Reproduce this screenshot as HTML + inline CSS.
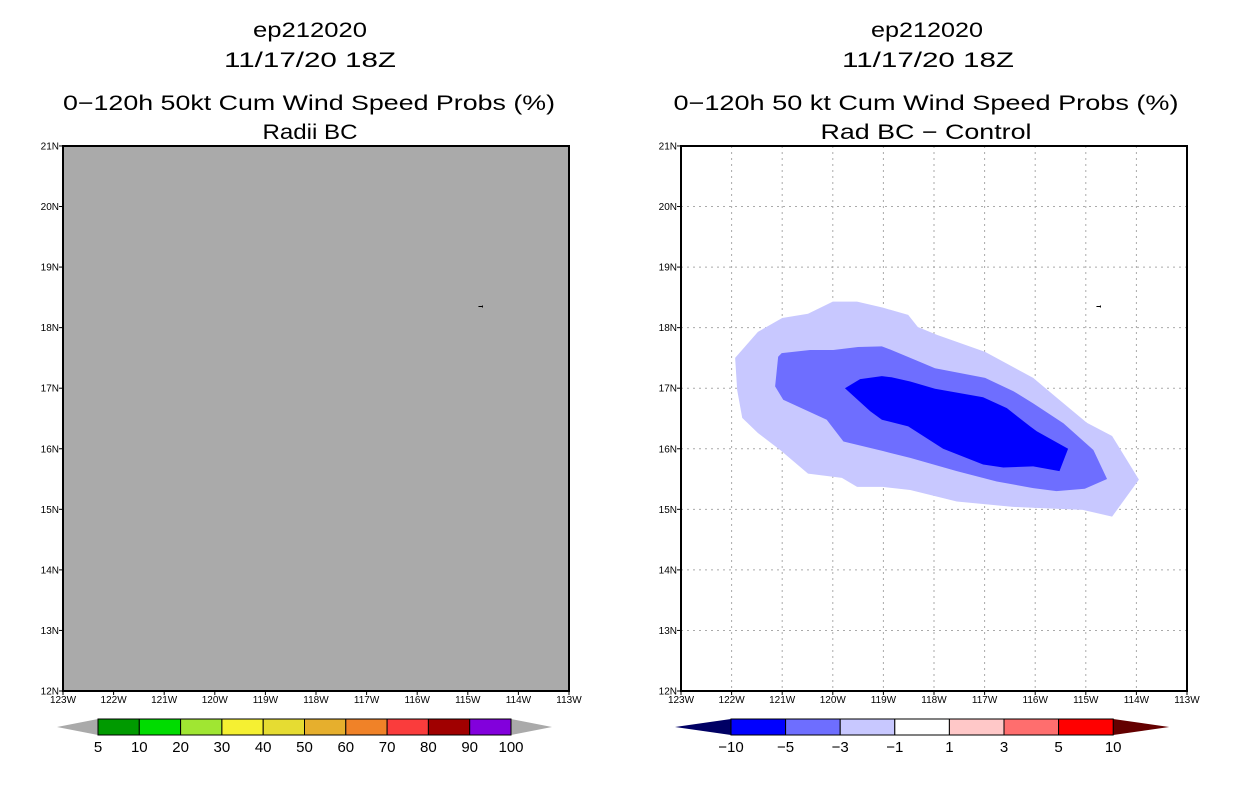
<!DOCTYPE html>
<html><head><meta charset="utf-8"><style>
html,body{margin:0;padding:0;background:#fff;}
svg{display:block;font-family:"Liberation Sans","DejaVu Sans",sans-serif;}
</style></head><body>
<svg id="s" width="1236" height="800" xmlns="http://www.w3.org/2000/svg">
<g font-size="21" text-anchor="middle" fill="#000">
<text x="310" y="37" textLength="114" lengthAdjust="spacingAndGlyphs">ep212020</text><text x="310" y="67" textLength="172" lengthAdjust="spacingAndGlyphs">11/17/20 18Z</text>
<text x="309" y="110" textLength="492" lengthAdjust="spacingAndGlyphs">0−120h 50kt Cum Wind Speed Probs (%)</text><text x="310" y="139" textLength="95" lengthAdjust="spacingAndGlyphs">Radii BC</text></g>
<g font-size="21" text-anchor="middle" fill="#000">
<text x="927" y="37" textLength="112" lengthAdjust="spacingAndGlyphs">ep212020</text><text x="928" y="67" textLength="172" lengthAdjust="spacingAndGlyphs">11/17/20 18Z</text>
<text x="926" y="110" textLength="505" lengthAdjust="spacingAndGlyphs">0−120h 50 kt Cum Wind Speed Probs (%)</text><text x="926" y="139" textLength="211" lengthAdjust="spacingAndGlyphs">Rad BC − Control</text></g>
<g id="L"></g>
<g id="R"></g>
<g id="CB"></g>
</svg>
<script>
const NS="http://www.w3.org/2000/svg";
const lonTicks=[-123,-122,-121,-120,-119,-118,-117,-116,-115,-114,-113];
const latTicks=[12,13,14,15,16,17,18,19,20,21];
const markerLon=[-114.75];
const markerLat=[18.35];
const outerLon=[-121.93,-121.48,-121.0,-120.49,-120.0,-119.52,-119.01,-118.51,-118.32,-117.94,-116.99,-116.04,-115.57,-114.98,-114.48,-113.95,-114.48,-115.06,-116.44,-117.55,-118.47,-119.01,-119.52,-119.82,-120.49,-121.04,-121.48,-121.79,-121.89];
const outerLat=[17.50,17.93,18.16,18.23,18.43,18.43,18.33,18.21,18.01,17.88,17.60,17.17,16.84,16.43,16.21,15.49,14.88,14.99,15.04,15.13,15.32,15.37,15.37,15.52,15.59,15.98,16.26,16.51,16.97];
const midLon=[-121.08,-121.01,-120.45,-119.99,-119.50,-119.03,-118.90,-118.38,-117.98,-116.99,-116.43,-116.04,-115.44,-114.85,-114.58,-115.02,-115.58,-116.04,-116.76,-117.55,-118.47,-119.00,-119.79,-120.12,-120.98,-121.14];
const midLat=[17.52,17.58,17.63,17.63,17.68,17.69,17.65,17.47,17.33,17.17,16.95,16.75,16.42,15.98,15.50,15.34,15.30,15.35,15.46,15.63,15.85,15.96,16.12,16.48,16.81,17.03];
const innerLon=[-119.76,-119.46,-119.03,-118.84,-118.47,-117.98,-117.03,-116.56,-116.10,-115.97,-115.35,-115.52,-116.04,-116.63,-117.03,-117.82,-118.51,-119.03,-119.26];
const innerLat=[17.00,17.15,17.20,17.18,17.11,16.99,16.85,16.67,16.37,16.29,16.00,15.63,15.71,15.69,15.74,16.00,16.37,16.48,16.62];
const probLabels=["5","10","20","30","40","50","60","70","80","90","100"];
const probColors=["#009a00","#00dc00","#a0e632","#f5f032","#e6dc32","#e6af2d","#f08228","#fa3c3c","#a00000","#8200dc"];
const diffLabels=["−10","−5","−3","−1","1","3","5","10"];
const diffColors=["#0000ff","#6e6eff","#c8c8ff","#ffffff","#ffc8c8","#ff6e6e","#ff0000"];

function el(tag,attrs,parent){const e=document.createElementNS(NS,tag);for(const k in attrs)e.setAttribute(k,attrs[k]);parent.appendChild(e);return e;}
function mkX(x0){return lon=>x0+(lon+123)*50.6;}
function yS(lat){return 691-(lat-12)*60.56;}

function drawMap(g,x0,fill,grid,side){
  const xS=mkX(x0);
  const bg=el('rect',{x:x0,y:146,width:506,height:545,fill:fill},g);
  
  
  if(grid){
    lonTicks.slice(1,-1).forEach(v=>{const l=el('line',{x1:xS(v),x2:xS(v),y1:146,y2:691,stroke:'#aaa','stroke-dasharray':'2,4'},g);
      
      });
    latTicks.slice(1,-1).forEach(v=>{const l=el('line',{x1:x0,x2:x0+506,y1:yS(v),y2:yS(v),stroke:'#aaa','stroke-dasharray':'2,4'},g);
      
      });
    [[outerLon,outerLat,'#c8c8ff','contour-minus1'],[midLon,midLat,'#6e6eff','contour-minus3'],[innerLon,innerLat,'#0000ff','contour-minus5']].forEach(([lo,la,c,n])=>{
      const p=el('polygon',{points:lo.map((v,i)=>xS(v)+','+yS(la[i])).join(' '),fill:c},g);
      
      
    });
  }
  const m=el('path',{d:`M${xS(markerLon[0])-2},${yS(markerLat[0])}h4M${xS(markerLon[0])+2},${yS(markerLat[0])-1}v2`,stroke:'#000','stroke-width':1},g);
  
  
  const fr=el('rect',{x:x0,y:146,width:506,height:545,fill:'none',stroke:'#000','stroke-width':2},g);
  
  
  lonTicks.forEach(v=>{
    el('line',{x1:xS(v),x2:xS(v),y1:691,y2:695,stroke:'#000'},g);
    const t=el('text',{x:xS(v),y:703,'font-size':10,'text-anchor':'middle'},g);t.textContent=(-v)+'W';
    
    
  });
  latTicks.forEach(v=>{
    el('line',{x1:x0-4,x2:x0,y1:yS(v),y2:yS(v),stroke:'#000'},g);
    const t=el('text',{x:x0-4,y:yS(v)+3.5,'font-size':10,'text-anchor':'end'},g);t.textContent=v+'N';
    
    
  });
}
drawMap(document.getElementById('L'),63,'#aaaaaa',false,'left');
drawMap(document.getElementById('R'),681,'#ffffff',true,'right');

const cb=document.getElementById('CB');
function colorbar(x0,w,cols,labels,leftC,rightC,tri,name){
  const g=el('g',{},cb);
  
  
  el('polygon',{points:`${x0-tri},727 ${x0},719 ${x0},735`,fill:leftC},g);
  const xe=x0+w*cols.length;
  el('polygon',{points:`${xe+tri},727 ${xe},719 ${xe},735`,fill:rightC},g);
  cols.forEach((c,i)=>{const r=el('rect',{x:x0+i*w,y:719,width:w,height:16,fill:c,stroke:'#000','stroke-width':1},g);
    
    });
  labels.forEach((l,i)=>{const t=el('text',{x:x0+i*w,y:752,'font-size':15,'text-anchor':'middle'},g);t.textContent=l;
    
    });
}
colorbar(98,41.3,probColors,probLabels,'#aaaaaa','#aaaaaa',41,'left-colorbar');
colorbar(731,54.6,diffColors,diffLabels,'#000064','#640000',56,'right-colorbar');
</script>
</body></html>
